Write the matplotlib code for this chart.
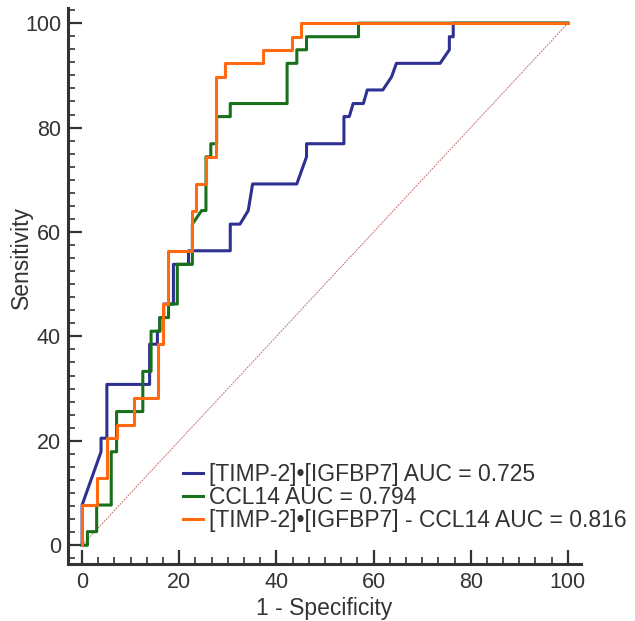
import matplotlib

matplotlib.use("Agg")
import matplotlib.pyplot as plt
from matplotlib.ticker import MultipleLocator

# ROC curves (1 - specificity, sensitivity) in %
TIMP_X = [0, 0, 3.9, 3.9, 5.1, 5.1, 13.9, 13.9, 15.5, 15.5, 16.0, 16.0, 16.8, 16.8,
          18.8, 18.8, 21.9, 21.9, 30.5, 30.5, 32.5, 34.2, 35.1, 44.2, 46.2, 46.2,
          53.9, 53.9, 55.0, 55.8, 57.9, 58.7, 61.9, 63.7, 64.7, 73.7, 75.6, 75.6,
          76.4, 76.4, 100]
TIMP_Y = [0, 7.7, 17.9, 20.5, 20.5, 30.8, 30.8, 38.5, 38.5, 41.0, 41.0, 43.6, 43.6, 46.2,
          46.2, 53.8, 53.8, 56.4, 56.4, 61.5, 61.5, 64.1, 69.2, 69.2, 74.4, 76.9,
          76.9, 82.1, 82.1, 84.6, 84.6, 87.2, 87.2, 89.7, 92.3, 92.3, 94.9, 97.4,
          97.4, 100, 100]

CCL_X = [0, 1.1, 1.1, 3.0, 3.0, 6.0, 6.0, 7.1, 7.1, 12.5, 12.5, 14.2, 14.2, 16.0, 16.0,
         17.8, 17.8, 19.6, 19.6, 22.7, 22.7, 24.6, 25.5, 25.5, 26.5, 26.5, 27.7, 27.7,
         30.5, 30.5, 42.2, 42.2, 44.2, 44.2, 46.2, 46.2, 56.9, 56.9, 100]
CCL_Y = [0, 0, 2.6, 2.6, 7.7, 7.7, 17.9, 17.9, 25.6, 25.6, 33.3, 33.3, 41.0, 41.0, 43.6,
         43.6, 46.2, 46.2, 53.8, 53.8, 61.5, 64.1, 64.1, 74.4, 74.4, 76.9, 76.9, 82.1,
         82.1, 84.6, 84.6, 92.3, 92.3, 94.9, 94.9, 97.4, 97.4, 100, 100]

COMB_X = [0, 0, 3.0, 3.0, 5.1, 5.1, 7.1, 7.1, 10.7, 10.7, 15.6, 15.6, 16.6, 16.6, 17.6,
          17.6, 22.6, 22.6, 23.5, 23.5, 25.5, 25.5, 27.6, 27.6, 29.4, 29.4, 37.3, 37.3,
          43.3, 43.3, 45.0, 45.0, 100]
COMB_Y = [0, 7.7, 7.7, 12.8, 12.8, 20.5, 20.5, 23.1, 23.1, 28.2, 28.2, 38.5, 38.5, 46.2,
          46.2, 56.4, 56.4, 64.1, 64.1, 69.2, 69.2, 74.4, 74.4, 89.7, 89.7, 92.3, 92.3,
          94.9, 94.9, 97.4, 97.4, 100, 100]

REF_X = [0, 100]
REF_Y = [0, 100]

LABELS = ["[TIMP-2]•[IGFBP7] AUC = 0.725",
          "CCL14 AUC = 0.794",
          "[TIMP-2]•[IGFBP7] - CCL14 AUC = 0.816"]

BLUE = "#2e3192"
GREEN = "#17701a"
ORANGE = "#ff6a10"
INK = "#333333"

plt.rcParams.update({"font.family": ["Liberation Sans", "DejaVu Sans"]})

fig = plt.figure(figsize=(6.35, 6.21), dpi=100)
ax = fig.add_axes([68 / 635, 1 - 563.5 / 621, 513 / 635, 555.5 / 621])

ax.plot(REF_X, REF_Y, color="#c87272", lw=0.7, ls=(0, (2, 1)))
ax.plot(TIMP_X, TIMP_Y, color=BLUE, lw=2.2, label=LABELS[0])
ax.plot(CCL_X, CCL_Y, color=GREEN, lw=2.2, label=LABELS[1])
ax.plot(COMB_X, COMB_Y, color=ORANGE, lw=2.2, label=LABELS[2])

ax.set_xticks([0, 20, 40, 60, 80, 100])
ax.set_yticks([0, 20, 40, 60, 80, 100])
ax.xaxis.set_minor_locator(MultipleLocator(20 / 6))
ax.yaxis.set_minor_locator(MultipleLocator(2.5))
ax.set_xlim(-2.9, 102.7)
ax.set_ylim(-3.5, 102.9)

for side in ("top", "right"):
    ax.spines[side].set_visible(False)
for side in ("left", "bottom"):
    ax.spines[side].set_linewidth(2.2)
    ax.spines[side].set_color(INK)

ax.tick_params(which="major", direction="in", length=10, width=1.6, color=INK,
               labelsize=15.5, labelcolor=INK)
ax.tick_params(which="minor", direction="in", length=5, width=1.2, color=INK)
ax.tick_params(axis="y", which="major", pad=5)
ax.tick_params(axis="x", which="major", pad=6)

ax.set_xlabel("1 - Specificity", fontsize=16.5, color=INK)
ax.set_ylabel("Sensitivity", fontsize=16.5, color=INK)
ax.xaxis.set_label_coords(0.5, -0.06)
ax.yaxis.set_label_coords(-0.068, 0.55)

leg = ax.legend(loc="lower left", bbox_to_anchor=(0.224, 0.056), frameon=False,
                fontsize=16.5, handlelength=0.87, handletextpad=0.26,
                labelspacing=0.0, borderpad=0, borderaxespad=0)
for t in leg.get_texts():
    t.set_color(INK)

fig.savefig("out.png", dpi=100)
